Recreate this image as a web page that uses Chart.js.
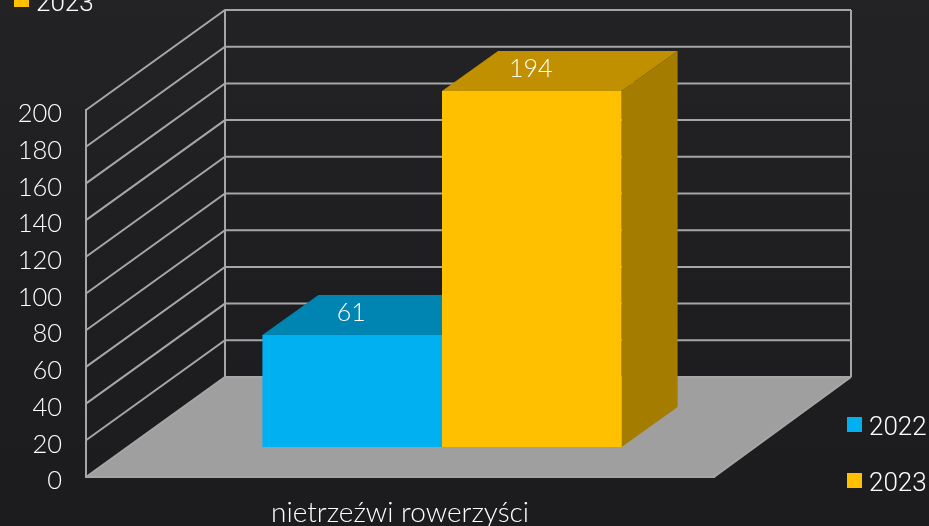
<!DOCTYPE html>
<html>
<head>
<meta charset="utf-8">
<style>
html,body{margin:0;padding:0;background:#1f1f21;}
#wrap{width:929px;height:526px;overflow:hidden;background:linear-gradient(180deg,#232325 0%,#1e1e20 55%,#1c1c1e 100%);}
canvas{display:block;}
</style>
<script src="https://cdn.jsdelivr.net/npm/chart.js@4"></script>
</head>
<body>
<div id="wrap"><canvas id="c" width="929" height="526"></canvas></div>
<script>
const categories = ["nietrzeźwi rowerzyści"];
const seriesNames = ["2022", "2023"];
const values2022 = [61];
const values2023 = [194];
const yTickValues = [0,20,40,60,80,100,120,140,160,180,200];

const AXIS_FONT = {family:"Lato", size:25.5, weight:"300"};
const CAT_FONT = {family:"Lato", size:28, weight:"300"};
const LEGEND_FONT = "300 26px Roboto";
const WALL = {dx:139, rdx:137, dy:-100};
const BAR_SHIFT = {x:42, y:-30};
const BAR_DEPTH = {dx:56, dy:-40};
const LINE = "#a6a6a6";
const FACES = [
  {front:"#00b0f0", top:"#0085b3", side:"#007199"},
  {front:"#ffc000", top:"#c09000", side:"#a37c00"}
];

function poly(ctx, pts, fill, stroke){
  ctx.beginPath();
  pts.forEach((p,i)=> i ? ctx.lineTo(p[0],p[1]) : ctx.moveTo(p[0],p[1]));
  ctx.closePath();
  if(fill){ctx.fillStyle=fill;ctx.fill();}
  if(stroke){ctx.strokeStyle=stroke;ctx.lineWidth=1;ctx.stroke();}
}

const box3d = {
  id:"box3d",
  beforeDatasetDraw(){ return false; },
  beforeDatasetsDraw(chart){
    const {ctx, chartArea:a, scales:{y}} = chart;
    ctx.save();
    const b = a.bottom, l = a.left, r = a.right;
    const lb = l+WALL.dx, rb = r+WALL.rdx;
    poly(ctx, [[l,b],[r,b],[rb,b+WALL.dy],[lb,b+WALL.dy]], "#9f9f9f");
    ctx.strokeStyle = LINE; ctx.lineWidth = 2;
    yTickValues.forEach(v=>{
      const py = y.getPixelForValue(v);
      ctx.beginPath();
      ctx.moveTo(l,py); ctx.lineTo(lb,py+WALL.dy); ctx.lineTo(rb,py+WALL.dy);
      ctx.stroke();
    });
    ctx.beginPath();
    ctx.moveTo(lb,a.top+WALL.dy); ctx.lineTo(lb,b+WALL.dy);
    ctx.moveTo(rb,a.top+WALL.dy); ctx.lineTo(rb,b+WALL.dy);
    ctx.moveTo(r,b); ctx.lineTo(rb,b+WALL.dy);
    ctx.stroke();
    ctx.restore();
  },
  afterDatasetsDraw(chart){
    const {ctx} = chart;
    chart.data.datasets.forEach((ds,i)=>{
      const meta = chart.getDatasetMeta(i);
      const f = FACES[i];
      meta.data.forEach((bar)=>{
        const p = bar.getProps(["x","y","base","width"], true);
        const L = p.x - p.width/2 + BAR_SHIFT.x, R = p.x + p.width/2 + BAR_SHIFT.x;
        const T = p.y + BAR_SHIFT.y, B = p.base + BAR_SHIFT.y;
        const d = BAR_DEPTH;
        poly(ctx, [[R,T],[R+d.dx,T+d.dy],[R+d.dx,B+d.dy],[R,B]], f.side);
        poly(ctx, [[L,T],[L+d.dx,T+d.dy],[R+d.dx,T+d.dy],[R,T]], f.top);
      });
      ctx.save();
      ctx.translate(BAR_SHIFT.x, BAR_SHIFT.y);
      meta.controller.draw();
      ctx.restore();
    });
    chart.data.datasets.forEach((ds,i)=>{
      const meta = chart.getDatasetMeta(i);
      meta.data.forEach((bar,j)=>{
        const p = bar.getProps(["x","y"], true);
        ctx.save();
        ctx.fillStyle="#ffffff";
        ctx.font = `${AXIS_FONT.weight} 25px ${AXIS_FONT.family}`;
        ctx.textAlign="center"; ctx.textBaseline="middle";
        ctx.fillText(String(ds.data[j]), p.x + BAR_SHIFT.x - 1, p.y + BAR_SHIFT.y - 22);
        ctx.restore();
      });
    });
  },
  afterDraw(chart){
    const {ctx} = chart;
    ctx.save();
    ctx.font = LEGEND_FONT;
    ctx.textBaseline="alphabetic"; ctx.textAlign="left";
    chart.data.datasets.forEach((ds,i)=>{
      const sy = 417 + i*56;
      ctx.fillStyle = ds.backgroundColor;
      ctx.fillRect(847, sy, 15, 15);
      ctx.fillStyle="#ffffff";
      ctx.fillText(ds.label, 869, sy+18);
    });
    const ds = chart.data.datasets[1];
    ctx.fillStyle = ds.backgroundColor;
    ctx.fillRect(14, -8, 15, 15);
    ctx.fillStyle="#ffffff";
    ctx.fillText(ds.label, 36, 11);
    ctx.restore();
  }
};

new Chart(document.getElementById("c"), {
  type:"bar",
  data:{
    labels:categories,
    datasets:[
      {label:seriesNames[0], data:values2022, backgroundColor:FACES[0].front, borderWidth:0},
      {label:seriesNames[1], data:values2023, backgroundColor:FACES[1].front, borderWidth:0}
    ]
  },
  options:{
    responsive:false,
    animation:false,
    layout:{padding:{left:0,right:215,top:110,bottom:0}},
    categoryPercentage:0.572,
    barPercentage:1,
    plugins:{legend:{display:false},tooltip:{enabled:false},title:{display:false}},
    scales:{
      x:{
        type:"category",
        afterFit(s){ s.height = 49; },
        grid:{display:false,drawTicks:false},
        border:{display:true,color:LINE,width:2,z:1},
        ticks:{color:"#ffffff",font:CAT_FONT,padding:19,maxRotation:0}
      },
      y:{
        min:0,max:200,
        afterFit(s){ s.width = 86; },
        afterBuildTicks(s){ s.ticks = yTickValues.map(v=>({value:v})); },
        grid:{display:false,drawTicks:false},
        border:{display:true,color:LINE,width:2,z:1},
        ticks:{color:"#ffffff",font:AXIS_FONT,padding:24,labelOffset:4}
      }
    }
  },
  plugins:[box3d]
});
</script>
</body>
</html>
